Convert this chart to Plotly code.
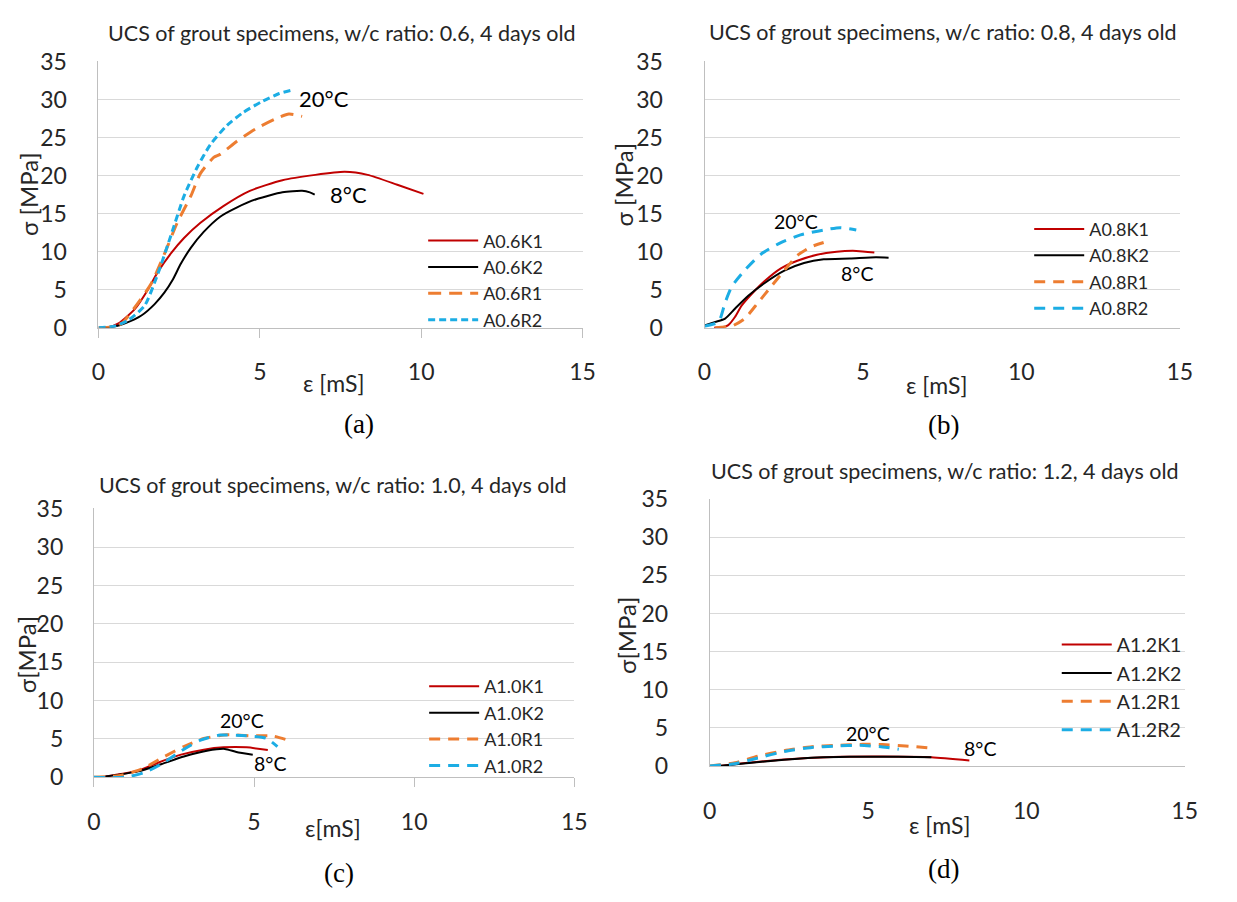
import plotly.graph_objects as go

W, H = 1237, 902

# ---------------- data ----------------
# (a) w/c 0.6
A06K1_x = [0, 0.3, 0.62, 1.13, 1.53, 1.84, 2.25, 2.65, 3.16, 3.87, 4.69, 5.70, 6.72, 7.63, 8.34, 9.26, 10.07]
A06K1_y = [0, 0.05, 0.56, 2.47, 5.0, 7.34, 9.8, 11.8, 13.8, 16.0, 18.0, 19.4, 20.1, 20.5, 20.1, 18.8, 17.6]
A06K2_x = [0.12, 0.5, 0.82, 1.33, 1.74, 2.04, 2.30, 2.55, 2.86, 3.26, 3.77, 4.28, 4.89, 5.70, 6.31, 6.55, 6.7]
A06K2_y = [0, 0.15, 0.56, 1.6, 3.1, 4.6, 6.3, 8.4, 10.5, 12.6, 14.6, 15.8, 16.9, 17.8, 18.0, 17.8, 17.5]
A06R1_x = [0, 0.4, 0.72, 1.13, 1.64, 2.04, 2.45, 2.86, 3.16, 3.57, 3.77, 4.28, 4.89, 5.50, 5.90, 6.31]
A06R1_y = [0, 0.1, 0.56, 2.7, 5.85, 9.67, 13.9, 17.3, 20.3, 22.4, 22.8, 24.5, 26.2, 27.5, 28.1, 27.8]
A06R2_x = [0, 0.5, 0.92, 1.43, 1.84, 2.25, 2.65, 3.06, 3.47, 3.98, 4.48, 5.09, 5.60, 5.95]
A06R2_y = [0, 0.2, 0.98, 2.9, 7.1, 12.2, 17.3, 21.1, 24.1, 26.6, 28.3, 29.8, 30.8, 31.2]

# (b) w/c 0.8
A08K1_x = [0.3, 0.55, 0.75, 0.96, 1.17, 1.48, 1.89, 2.41, 2.93, 3.55, 4.17, 4.79, 5.36]
A08K1_y = [0, 0.05, 0.34, 1.4, 2.9, 4.4, 6.1, 7.8, 8.8, 9.6, 10.0, 10.1, 9.9]
A08K2_x = [0, 0.34, 0.65, 0.96, 1.38, 1.89, 2.52, 3.14, 3.76, 4.59, 5.41, 5.81]
A08K2_y = [0.3, 0.76, 1.2, 2.5, 4.2, 5.85, 7.5, 8.5, 9.0, 9.1, 9.25, 9.2]
A08R1_x = [0.34, 0.86, 1.27, 1.69, 2.10, 2.52, 2.93, 3.34, 3.76]
A08R1_y = [0, 0.2, 1.2, 3.3, 5.4, 7.55, 9.5, 10.6, 11.2]
A08R2_x = [0, 0.44, 0.65, 0.86, 1.27, 1.79, 2.41, 3.03, 3.76, 4.28, 4.79]
A08R2_y = [0.2, 0.76, 3.3, 5.4, 7.55, 9.7, 11.2, 12.2, 12.85, 13.15, 12.85]

# (c) w/c 1.0
A10K1_x = [0.36, 1.38, 2.0, 2.72, 3.43, 4.05, 4.77, 5.43]
A10K1_y = [0.1, 0.85, 1.9, 2.95, 3.6, 3.9, 3.9, 3.55]
A10K2_x = [0.36, 1.38, 2.10, 2.81, 3.53, 4.09, 4.45, 4.96]
A10K2_y = [0.1, 0.77, 1.7, 2.7, 3.45, 3.7, 3.3, 2.95]
A10R1_x = [0, 0.77, 1.48, 2.2, 2.81, 3.43, 4.14, 4.96, 5.57, 5.98]
A10R1_y = [0, 0.2, 1.05, 2.7, 4.0, 5.05, 5.55, 5.4, 5.4, 4.95]
A10R2_x = [0, 0.97, 1.59, 2.1, 2.71, 3.33, 3.94, 4.76, 5.37, 5.73]
A10R2_y = [0, 0, 0.63, 1.7, 3.4, 4.85, 5.5, 5.4, 5.1, 4.0]

# (d) w/c 1.2
A12K1_x = [0.28, 2.35, 3.9, 5.46, 7.0, 8.2]
A12K1_y = [0, 0.85, 1.18, 1.23, 1.14, 0.72]
A12K2_x = [0.28, 1.32, 2.35, 3.39, 4.42, 5.46, 6.49, 7.0]
A12K2_y = [0, 0.42, 0.8, 1.1, 1.2, 1.2, 1.18, 1.14]
A12R1_x = [0, 0.8, 1.52, 2.35, 3.18, 4.0, 4.84, 5.46, 6.18, 7.06]
A12R1_y = [0, 0.42, 1.27, 2.0, 2.5, 2.7, 2.84, 2.8, 2.63, 2.3]
A12R2_x = [0, 0.8, 1.52, 2.35, 3.18, 4.0, 4.73, 5.46, 5.97]
A12R2_y = [0, 0.3, 1.05, 1.9, 2.4, 2.62, 2.7, 2.5, 2.2]

titles = ["UCS of grout specimens, w/c ratio: 0.6, 4 days old",
          "UCS of grout specimens, w/c ratio: 0.8, 4 days old",
          "UCS of grout specimens, w/c ratio: 1.0, 4 days old",
          "UCS of grout specimens, w/c ratio: 1.2, 4 days old"]
x_ticks = [0, 5, 10, 15]
y_ticks = [0, 5, 10, 15, 20, 25, 30, 35]
sub_labels = ["(a)", "(b)", "(c)", "(d)"]
x_titles = ["ε [mS]", "ε [mS]", "ε[mS]", "ε [mS]"]
y_titles = ["σ [MPa]", "σ [MPa]", "σ[MPa]", "σ[MPa]"]

# ---------------- styling ----------------
RED, BLACK, ORANGE, BLUE = "#C00000", "#000000", "#ED7D31", "#1CADE4"
FONT = "Lato"
TXT = "#262626"

def fx(px):
    return px / W

def fy(py):
    return 1 - py / H

# panel geometry in pixels: (left, right, top, bottom)
panels = [
    (93, 585, 47.7, 322.7),
    (709, 1192, 47.7, 322.7),
    (88.3, 576.7, 509.3, 786.7),
    (714.3, 1197, 499.3, 775),
]

series = [
    [("A0.6K1", A06K1_x, A06K1_y, RED, "solid", 2),
     ("A0.6K2", A06K2_x, A06K2_y, BLACK, "solid", 2),
     ("A0.6R1", A06R1_x, A06R1_y, ORANGE, "13px,8px", 3),
     ("A0.6R2", A06R2_x, A06R2_y, BLUE, "7px,4px", 3)],
    [("A0.8K1", A08K1_x, A08K1_y, RED, "solid", 2),
     ("A0.8K2", A08K2_x, A08K2_y, BLACK, "solid", 2),
     ("A0.8R1", A08R1_x, A08R1_y, ORANGE, "11px,8px", 3),
     ("A0.8R2", A08R2_x, A08R2_y, BLUE, "11px,8px", 3)],
    [("A1.0K1", A10K1_x, A10K1_y, RED, "solid", 2),
     ("A1.0K2", A10K2_x, A10K2_y, BLACK, "solid", 2),
     ("A1.0R1", A10R1_x, A10R1_y, ORANGE, "11px,8px", 3),
     ("A1.0R2", A10R2_x, A10R2_y, BLUE, "11px,8px", 3)],
    [("A1.2K1", A12K1_x, A12K1_y, RED, "solid", 2),
     ("A1.2K2", A12K2_x, A12K2_y, BLACK, "solid", 2),
     ("A1.2R1", A12R1_x, A12R1_y, ORANGE, "11px,8px", 3),
     ("A1.2R2", A12R2_x, A12R2_y, BLUE, "11px,8px", 3)],
]

legend_names = ["legend", "legend2", "legend3", "legend4"]
# legend text start x, first row centre y
legend_pos = [(483, 228), (1099, 216), (484, 688), (1127, 644)]
legend_font = [18, 18, 18, 19.5]
ITEMW = 50

fig = go.Figure()

for i, group in enumerate(series):
    ax = "" if i == 0 else str(i + 1)
    for name, xs, ys, col, dash, w in group:
        fig.add_trace(go.Scatter(
            x=xs, y=ys, name=name, mode="lines",
            line=dict(color=col, width=w, dash=dash, shape="spline", smoothing=0.6),
            xaxis="x" + ax, yaxis="y" + ax, legend=legend_names[i],
            hoverinfo="skip",
        ))

layout = dict(
    width=W, height=H,
    margin=dict(l=0, r=0, t=0, b=0),
    paper_bgcolor="white", plot_bgcolor="white",
    font=dict(family=FONT, size=20, color=TXT),
    annotations=[],
)

y_standoff = [26, 36, 25, 36]
for i, (l, r, t, b) in enumerate(panels):
    ax = "" if i == 0 else str(i + 1)
    with_ticks = i in (0, 2)
    layout["xaxis" + ax] = dict(
        domain=[fx(l), fx(r)], range=[0, 15], tickvals=x_ticks,
        showgrid=False, zeroline=False, showline=True,
        linecolor="#BFBFBF", linewidth=1,
        ticks="outside" if with_ticks else "", ticklen=9 if with_ticks else 0,
        tickcolor="#BFBFBF", ticklabelstandoff=15 if with_ticks else 24,
        tickfont=dict(family=FONT, size=23, color=TXT),
        anchor="y" + ax, fixedrange=True,
    )
    layout["yaxis" + ax] = dict(
        domain=[fy(b), fy(t)], range=[0, 35.05], tickvals=y_ticks,
        showgrid=True, gridcolor="#D9D9D9", gridwidth=1,
        zeroline=False, showline=True, linecolor="#BFBFBF", linewidth=1,
        ticks="", ticklabelstandoff=y_standoff[i],
        tickfont=dict(family=FONT, size=23, color=TXT),
        anchor="x" + ax, fixedrange=True,
    )
    lx, ly = legend_pos[i]
    lkey = legend_names[i]
    layout[lkey] = dict(
        x=fx(lx - ITEMW - 10), y=fy(ly - 14), xanchor="left", yanchor="top",
        bgcolor="rgba(0,0,0,0)", borderwidth=0,
        font=dict(family=FONT, size=legend_font[i], color=TXT),
        itemwidth=ITEMW, tracegroupgap=0, traceorder="normal",
    )

anns = layout["annotations"]

def text(px, py, s, size, family=FONT, angle=0, color=TXT):
    anns.append(dict(x=fx(px), y=fy(py), xref="paper", yref="paper",
                     text=s, showarrow=False, textangle=angle,
                     xanchor="center", yanchor="middle",
                     font=dict(family=family, size=size, color=color)))

title_pos = [(340, 19), (951, 18), (331.5, 485), (953, 471)]
for (px, py), s in zip(title_pos, titles):
    text(px, py, s, 21.5)

xt_pos = [(332, 380), (945, 382), (331, 839), (948, 836)]
for (px, py), s in zip(xt_pos, x_titles):
    text(px, py, s, 23)

yt_pos = [(22, 185), (627, 175), (20, 660), (629, 640)]
for (px, py), s in zip(yt_pos, y_titles):
    text(px, py, s, 24, angle=-90)

sub_pos = [(358, 422), (952, 423), (337, 886), (952, 881)]
for (px, py), s in zip(sub_pos, sub_labels):
    text(px, py, s, 27, family="Liberation Serif", color="#000000")

temp_labels = [
    ("20°C", 322, 86, 22), ("8°C", 347, 185, 22),
    ("20°C", 802, 213, 19.5), ("8°C", 864, 267, 19.5),
    ("20°C", 239, 728, 19.5), ("8°C", 267, 772, 19.5),
    ("20°C", 875, 742, 19.5), ("8°C", 989, 757, 19.5),
]
for s, px, py, sz in temp_labels:
    text(px, py, s, sz, color="#000000")

fig.update_layout(**layout)
fig.write_html("out.html", config={"displayModeBar": False},
               post_script="document.body.style.margin='0px';")
